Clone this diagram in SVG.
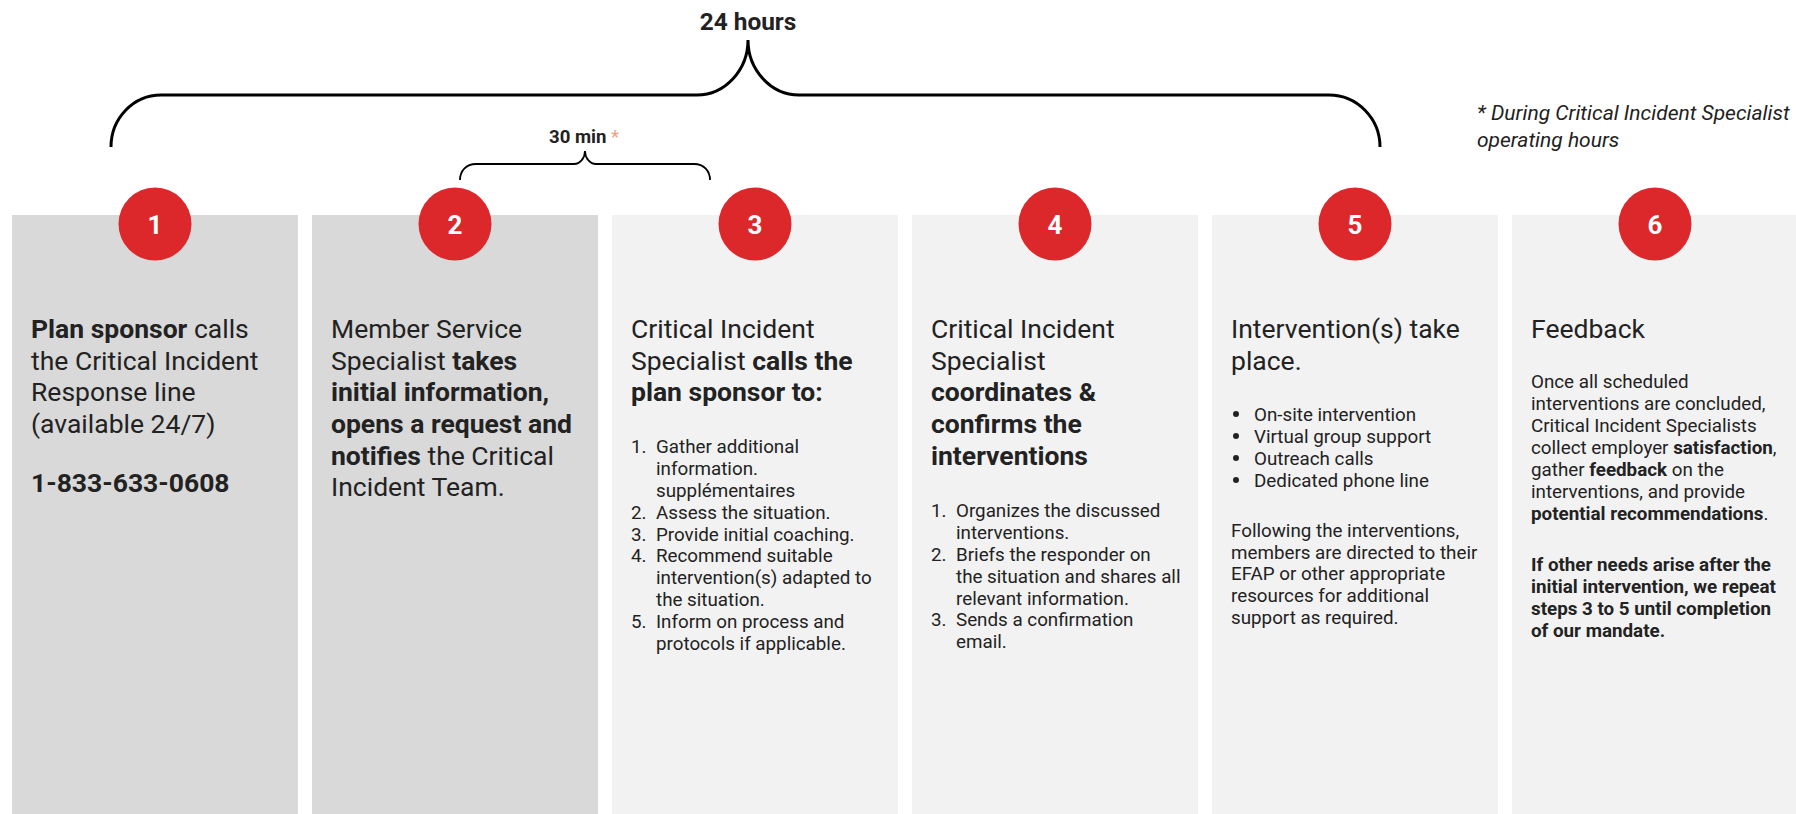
<svg xmlns="http://www.w3.org/2000/svg" width="1796" height="814" viewBox="0 0 1796 814">
<style>
text{font-family:Roboto,"Liberation Sans",sans-serif;fill:#222}
.dark{fill:#d9d9d9}
.light{fill:#f2f2f2}
.circ{fill:#dc282b}
.num{fill:#fff;font-size:26px;font-weight:700;text-anchor:middle}
.h{font-size:26.5px}
.s{font-size:18.8px}
.b{font-weight:700}
.brace{fill:none;stroke:#000;stroke-linecap:butt}
.foot{font-size:21px;font-style:italic}
</style>
<rect width="1796" height="814" fill="#fff"/>
<g id="connectors">
<path class="brace" stroke-width="3" d="M111,147 C111,118.3 133.4,95 161,95 L697,95 C725,95 748,70 748,40 C748,70 771,95 799,95 L1329,95 C1357,95 1380,118.3 1380,147"/>
<path class="brace" stroke-width="1.8" d="M460,180 C460,171 466,164 476,164 L574,164 C580,164 585,158 585,151 C585,158 590,164 596,164 L694,164 C704,164 710,171 710,180"/>
<text x="748" y="30" text-anchor="middle" class="b" font-size="24.4">24 hours</text>
<text x="549" y="142.7" class="b" font-size="18.6">30 min <tspan fill="#f0a080" font-weight="400">*</tspan></text>
</g>
<g id="footnote">
<text class="foot" x="1477" y="119.5">* During Critical Incident Specialist</text>
<text class="foot" x="1477" y="147">operating hours</text>
</g>
<g id="step1">
<rect class="dark" x="12" y="215" width="286" height="599"/>
<circle class="circ" cx="155" cy="224" r="36.5"/>
<text class="num" x="155" y="233.5">1</text>
<text class="h" x="31" y="338"><tspan class="b">Plan sponsor</tspan> calls</text>
<text class="h" x="31" y="369.7">the Critical Incident</text>
<text class="h" x="31" y="401.3">Response line</text>
<text class="h" x="31" y="433">(available 24/7)</text>
<text class="h b" x="31" y="491.7">1-833-633-0608</text>
</g>
<g id="step2">
<rect class="dark" x="312" y="215" width="286" height="599"/>
<circle class="circ" cx="455" cy="224" r="36.5"/>
<text class="num" x="455" y="233.5">2</text>
<text class="h" x="331" y="338">Member Service</text>
<text class="h" x="331" y="369.7">Specialist <tspan class="b">takes</tspan></text>
<text class="h b" x="331" y="401.3">initial information,</text>
<text class="h b" x="331" y="433">opens a request and</text>
<text class="h" x="331" y="464.7"><tspan class="b">notifies</tspan> the Critical</text>
<text class="h" x="331" y="496.4">Incident Team.</text>
</g>
<g id="step3">
<rect class="light" x="612" y="215" width="286" height="599"/>
<circle class="circ" cx="755" cy="224" r="36.5"/>
<text class="num" x="755" y="233.5">3</text>
<text class="h" x="631" y="338">Critical Incident</text>
<text class="h" x="631" y="369.7">Specialist <tspan class="b">calls the</tspan></text>
<text class="h b" x="631" y="401.3">plan sponsor to:</text>
<text class="s" x="631" y="453.3">1.</text><text class="s" x="656" y="453.3">Gather additional</text>
<text class="s" x="656" y="475.1">information.</text>
<text class="s" x="656" y="496.9">supplémentaires</text>
<text class="s" x="631" y="518.7">2.</text><text class="s" x="656" y="518.7">Assess the situation.</text>
<text class="s" x="631" y="540.5">3.</text><text class="s" x="656" y="540.5">Provide initial coaching.</text>
<text class="s" x="631" y="562.3">4.</text><text class="s" x="656" y="562.3">Recommend suitable</text>
<text class="s" x="656" y="584.1">intervention(s) adapted to</text>
<text class="s" x="656" y="605.9">the situation.</text>
<text class="s" x="631" y="627.7">5.</text><text class="s" x="656" y="627.7">Inform on process and</text>
<text class="s" x="656" y="649.5">protocols if applicable.</text>
</g>
<g id="step4">
<rect class="light" x="912" y="215" width="286" height="599"/>
<circle class="circ" cx="1055" cy="224" r="36.5"/>
<text class="num" x="1055" y="233.5">4</text>
<text class="h" x="931" y="338">Critical Incident</text>
<text class="h" x="931" y="369.7">Specialist</text>
<text class="h b" x="931" y="401.3">coordinates &amp;</text>
<text class="h b" x="931" y="433">confirms the</text>
<text class="h b" x="931" y="464.7">interventions</text>
<text class="s" x="931" y="517.3">1.</text><text class="s" x="956" y="517.3">Organizes the discussed</text>
<text class="s" x="956" y="539.1">interventions.</text>
<text class="s" x="931" y="560.9">2.</text><text class="s" x="956" y="560.9">Briefs the responder on</text>
<text class="s" x="956" y="582.7">the situation and shares all</text>
<text class="s" x="956" y="604.5">relevant information.</text>
<text class="s" x="931" y="626.3">3.</text><text class="s" x="956" y="626.3">Sends a confirmation</text>
<text class="s" x="956" y="648.1">email.</text>
</g>
<g id="step5">
<rect class="light" x="1212" y="215" width="286" height="599"/>
<circle class="circ" cx="1355" cy="224" r="36.5"/>
<text class="num" x="1355" y="233.5">5</text>
<text class="h" x="1231" y="338">Intervention(s) take</text>
<text class="h" x="1231" y="369.7">place.</text>
<circle cx="1236" cy="414" r="3" fill="#222"/><text class="s" x="1254" y="420.5">On-site intervention</text>
<circle cx="1236" cy="436" r="3" fill="#222"/><text class="s" x="1254" y="442.5">Virtual group support</text>
<circle cx="1236" cy="458" r="3" fill="#222"/><text class="s" x="1254" y="464.5">Outreach calls</text>
<circle cx="1236" cy="480" r="3" fill="#222"/><text class="s" x="1254" y="486.5">Dedicated phone line</text>
<text class="s" x="1231" y="536.7">Following the interventions,</text>
<text class="s" x="1231" y="558.5">members are directed to their</text>
<text class="s" x="1231" y="580.3">EFAP or other appropriate</text>
<text class="s" x="1231" y="602.1">resources for additional</text>
<text class="s" x="1231" y="623.9">support as required.</text>
</g>
<g id="step6">
<rect class="light" x="1512" y="215" width="286" height="599"/>
<circle class="circ" cx="1655" cy="224" r="36.5"/>
<text class="num" x="1655" y="233.5">6</text>
<text class="h" x="1531" y="338">Feedback</text>
<text class="s" x="1531" y="388.3">Once all scheduled</text>
<text class="s" x="1531" y="410.3">interventions are concluded,</text>
<text class="s" x="1531" y="432.3">Critical Incident Specialists</text>
<text class="s" x="1531" y="454.3">collect employer <tspan class="b">satisfaction</tspan>,</text>
<text class="s" x="1531" y="476.3">gather <tspan class="b">feedback</tspan> on the</text>
<text class="s" x="1531" y="498.3">interventions, and provide</text>
<text class="s" x="1531" y="520.3"><tspan class="b">potential recommendations</tspan>.</text>
<text class="s b" x="1531" y="570.7">If other needs arise after the</text>
<text class="s b" x="1531" y="592.7">initial intervention, we repeat</text>
<text class="s b" x="1531" y="614.7">steps 3 to 5 until completion</text>
<text class="s b" x="1531" y="636.7">of our mandate.</text>
</g>
</svg>
